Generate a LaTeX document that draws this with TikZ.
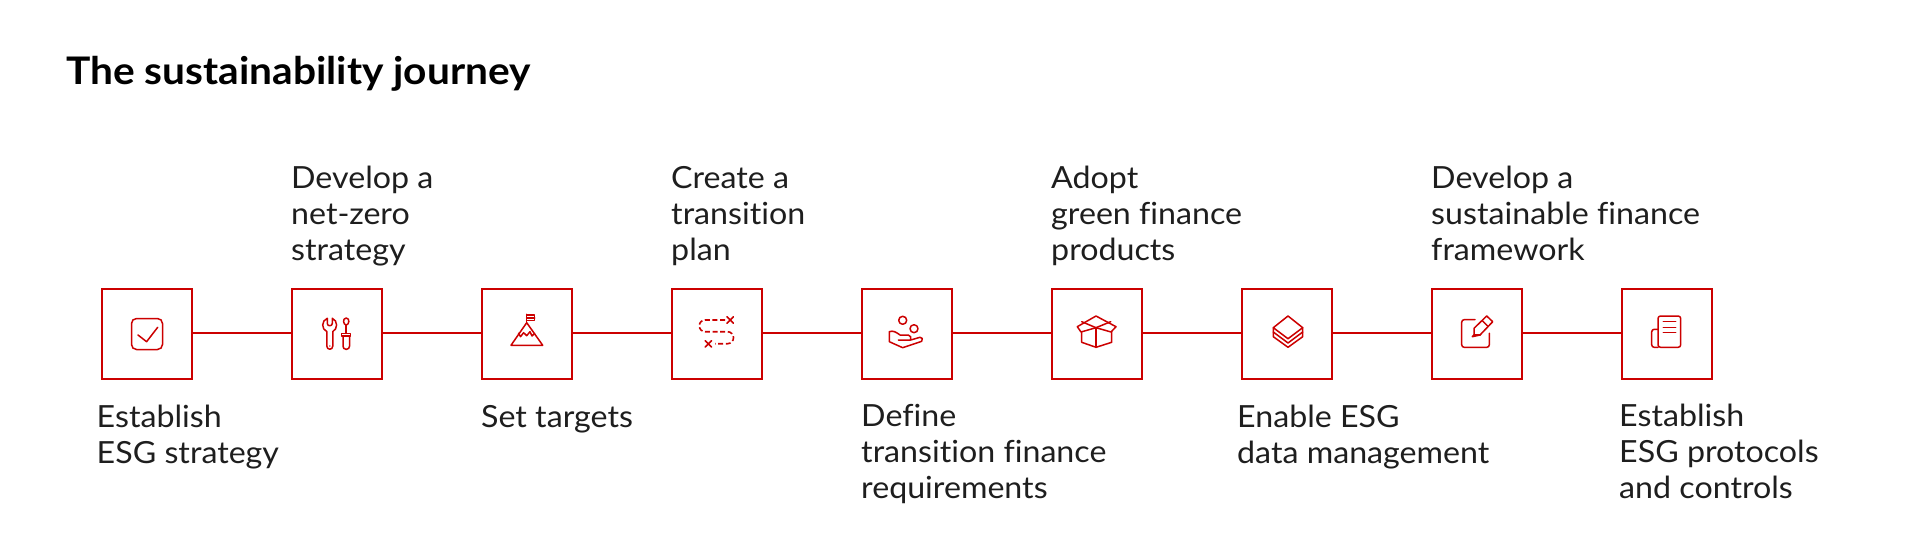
\documentclass[tikz,border=0pt]{standalone}
\usepackage{fontspec}
\setmainfont[Ligatures=NoCommon,FakeStretch=1.055]{Lato}
\newfontfamily\ttlfont[Ligatures=NoCommon,FakeStretch=1.07]{Lato}
\definecolor{brand}{HTML}{CC0000}
\definecolor{ink}{HTML}{1E1E1E}
\tikzset{
  stepbox/.style={draw=brand,line width=2.3pt,minimum width=90pt,minimum height=90pt,inner sep=0pt,outer sep=0pt,fill=white},
  link/.style={draw=brand,line width=2.3pt},
  glyph/.style={draw=brand,line width=1.5pt,line join=round,line cap=round},
  lab/.style={text=ink,anchor=base west,align=left,inner sep=0pt,font=\fontsize{30.5}{36}\selectfont},
  ttl/.style={text=black,anchor=base west,inner sep=0pt,font=\ttlfont\fontsize{38}{44}\selectfont\bfseries}
}
\begin{document}
\begin{tikzpicture}[x=1pt,y=-1pt]
\useasboundingbox (0,0) rectangle (1917,556);
\node[ttl] (title) at (66,85) {The sustainability journey};
\foreach \n/\x in {1/147,2/337,3/527,4/717,5/907,6/1097,7/1287,8/1477,9/1667}
  \node[stepbox] (b\n) at (\x,334) {};
\foreach \a/\b in {1/2,2/3,3/4,4/5,5/6,6/7,7/8,8/9}
  \draw[link] ([yshift=1.2pt]b\a.east) -- ([yshift=1.2pt]b\b.west);
% labels (anchor = baseline of the last line)
\node[lab] (l1) at (96.5,463) {Establish\\ESG strategy};
\node[lab] (l2) at (291,260) {Develop a\\net-zero\\strategy};
\node[lab] (l3) at (481,427) {Set targets};
\node[lab] (l4) at (671,260) {Create a\\transition\\plan};
\node[lab] (l5) at (861,498.5) {Define\\transition finance\\requirements};
\node[lab] (l6) at (1051,260) {Adopt\\green finance\\products};
\node[lab] (l7) at (1237,463) {Enable ESG\\data management};
\node[lab] (l8) at (1431,260) {Develop a\\sustainable finance\\framework};
\node[lab] (l9) at (1619,498.5) {Establish\\ESG protocols\\and controls};
% icon 1
\draw[glyph,rounded corners=5pt] (131.5,318.5) rectangle (162.5,349.5);
\draw[glyph] (138,335) -- (146.6,341.7) -- (157.7,327.3);
% icon 2 wrench
\draw[glyph] (327.3,318.3) -- (327.3,323.5) .. controls (327.3,326.5) and (332.3,326.5) .. (332.3,323.5) -- (332.3,318.3)
  .. controls (335,319.5) and (336.6,322) .. (336.6,325) .. controls (336.6,328) and (335,330.5) .. (332.8,331.5)
  -- (332.8,346) .. controls (332.8,350.3) and (326.8,350.3) .. (326.8,346) -- (326.8,331.5)
  .. controls (324.2,330.5) and (322.7,328) .. (322.7,325) .. controls (322.7,322) and (324.4,319.5) .. (327.3,318.3);
\fill[brand] (329.8,346) circle (0.8);
% screwdriver
\draw[glyph] (346.2,318) .. controls (344,318) and (343.6,320) .. (343.6,321.5) .. controls (343.6,323.5) and (345,325) .. (346.2,325) .. controls (347.4,325) and (348.8,323.5) .. (348.8,321.5) .. controls (348.8,320) and (348.4,318) .. (346.2,318);
\draw[glyph] (346.2,325) -- (346.2,333.3);
\draw[glyph] (341.7,333.3) -- (350.7,333.3) -- (350.7,336) -- (341.7,336) -- cycle;
\draw[glyph,rounded corners=3pt] (343,336) -- (343,349.3) -- (349.5,349.3) -- (349.5,336);
% icon 3 mountain
\draw[glyph] (511,345.3) -- (526.7,322.7) -- (542.7,345.3) -- cycle;
\draw[glyph] (526.7,322.7) -- (526.7,314.3);
\draw[glyph] (526.7,315) -- (534.7,315) -- (534.7,320.7) -- (526.7,320.7);
\draw[glyph] (526.7,318) -- (534.7,318);
\draw[glyph] (518.6,333.3) -- (520.5,336.7) -- (523.6,332.7) -- (526.7,335.7) -- (530,331.7) -- (532,336) -- (534.7,333.3);
% icon 4 route
\draw[glyph,line width=1.6pt,line cap=butt,dash pattern=on 5pt off 2.6pt] (725,320) -- (705,320)
  .. controls (701.8,320) and (699.3,322.6) .. (699.3,325.8) .. controls (699.3,329) and (701.8,331.7) .. (705,331.7)
  -- (727.5,331.7) .. controls (730.8,331.7) and (733.5,334.4) .. (733.5,337.7) .. controls (733.5,341) and (730.8,343.7) .. (727.5,343.7) -- (715,343.7);
\draw[glyph,line width=1.6pt] (727,316.8) -- (733.4,323.2) (733.4,316.8) -- (727,323.2);
\draw[glyph,line width=1.6pt] (705.2,340.6) -- (711.6,347) (711.6,340.6) -- (705.2,347);
% icon 5 hand
\draw[glyph] (902.7,320.3) circle (4);
\draw[glyph] (914,328.7) circle (4);
\draw[glyph] (898.3,340) -- (910.7,340) -- (920,337.3) .. controls (922,336.8) and (923.5,339.5) .. (921.7,341.3) -- (902.7,347.7) -- (889.3,341.7) -- (889.3,331.7) .. controls (893,330.3) and (896,332) .. (900,335) -- (908.3,335) .. controls (910.5,335) and (911.5,338) .. (910.7,340);
% icon 6 box
\draw[glyph] (1096,316) -- (1116,326.7) -- (1111,332) -- (1096,327.7) -- (1081,332) -- (1077.3,326.7) -- cycle;
\draw[glyph] (1081.7,321.7) -- (1096,327.7) -- (1110.7,321.7);
\draw[glyph] (1081.7,332) -- (1081.7,342.3) -- (1096,347.3) -- (1111.7,342.3) -- (1111.7,332);
\draw[glyph] (1096,327.7) -- (1096,347.3);
% icon 7 layers
\draw[glyph] (1288,316) -- (1302.7,327.7) -- (1288,338.7) -- (1273.3,327.7) -- cycle;
\draw[glyph] (1273.3,327.7) -- (1273.3,332) -- (1288,343) -- (1302.7,332) -- (1302.7,327.7);
\draw[glyph] (1273.3,332) -- (1273.3,336.7) -- (1288,347.3) -- (1302.7,336.7) -- (1302.7,332);
% icon 8 note
\draw[glyph,rounded corners=2.5pt] (1475,319.7) -- (1461.7,319.7) -- (1461.7,347.3) -- (1489.3,347.3) -- (1489.3,333.3);
\draw[glyph] (1472.3,336.7) -- (1474,335) -- (1474,328.3) -- (1486.7,316) -- (1492.7,321.7) -- (1480,335) -- cycle;
\draw[glyph] (1474,335) -- (1480,335);
\draw[glyph] (1482.3,320.7) -- (1488.3,326.7);
% icon 9 news
\draw[glyph,rounded corners=2.5pt] (1658,347.3) -- (1658,316) -- (1680.7,316) -- (1680.7,347.3) -- cycle;
\draw[glyph,rounded corners=2.5pt] (1658,329.3) -- (1651.7,329.3) -- (1651.7,347.3) -- (1658,347.3);
\draw[glyph] (1663.3,321.7) -- (1675.7,321.7) (1663.3,327.3) -- (1675.7,327.3) (1663.3,332.7) -- (1675.7,332.7);
\end{tikzpicture}
\end{document}
